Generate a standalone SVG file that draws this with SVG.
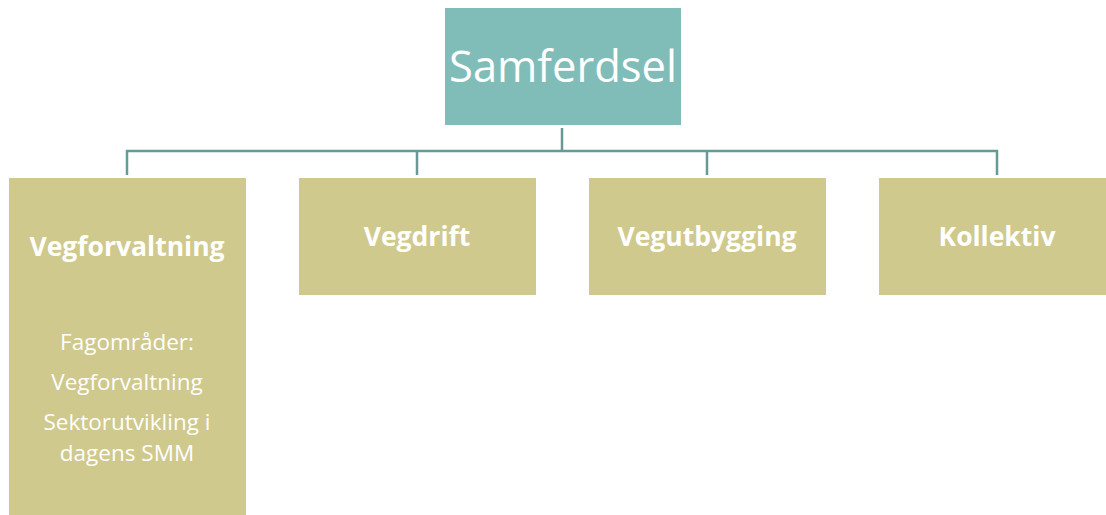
<svg xmlns="http://www.w3.org/2000/svg" width="1106" height="515" viewBox="0 0 1106 515">
  <style>
    .root { fill: #80BDB9; }
    .unit { fill: #D0C98D; }
    .link { fill: none; stroke: #659A95; stroke-width: 2.5; }
    .title { font-family: "Open Sans", "Liberation Sans", sans-serif; fill: #ffffff; text-anchor: middle; }
    .head { font-family: "Open Sans", "Liberation Sans", sans-serif; font-weight: bold; font-size: 26.5px; fill: #ffffff; text-anchor: middle; }
    .body { font-family: "Open Sans", "Liberation Sans", sans-serif; font-size: 22.5px; fill: #ffffff; text-anchor: middle; }
  </style>
  <rect width="1106" height="515" fill="#ffffff"/>

  <g id="connectors">
    <path class="link" d="M562 128 V151"/>
    <path class="link" d="M127 175 V151 H997 V175"/>
    <path class="link" d="M417 151 V175"/>
    <path class="link" d="M707 151 V175"/>
  </g>

  <g id="samferdsel">
    <rect class="root" x="445" y="8" width="236" height="117"/>
    <text class="title" x="563" y="82" font-size="43.5">Samferdsel</text>
  </g>

  <g id="vegforvaltning">
    <rect class="unit" x="9" y="178" width="237" height="337"/>
    <text class="head" x="127" y="256">Vegforvaltning</text>
    <text class="body" x="127" y="350">Fagområder:</text>
    <text class="body" x="127" y="390">Vegforvaltning</text>
    <text class="body" x="127" y="430">Sektorutvikling i</text>
    <text class="body" x="127" y="461">dagens SMM</text>
  </g>

  <g id="vegdrift">
    <rect class="unit" x="299" y="178" width="237" height="117"/>
    <text class="head" x="417" y="246">Vegdrift</text>
  </g>

  <g id="vegutbygging">
    <rect class="unit" x="589" y="178" width="237" height="117"/>
    <text class="head" x="707" y="246">Vegutbygging</text>
  </g>

  <g id="kollektiv">
    <rect class="unit" x="879" y="178" width="237" height="117"/>
    <text class="head" x="997" y="246">Kollektiv</text>
  </g>
</svg>
